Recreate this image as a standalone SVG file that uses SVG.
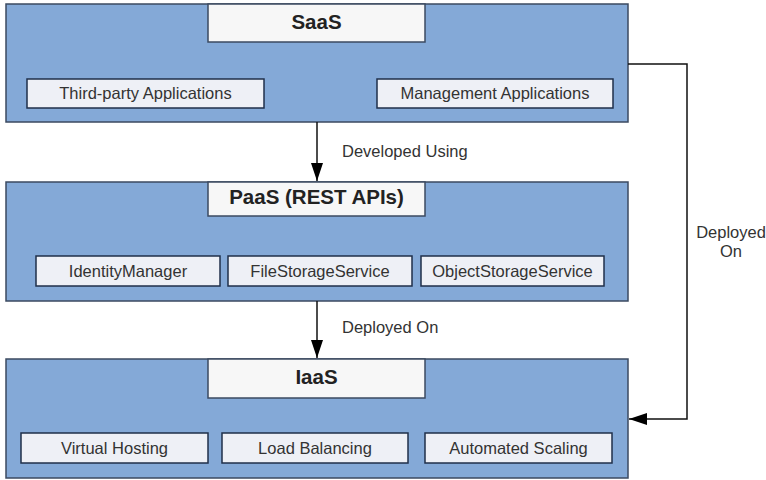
<svg xmlns="http://www.w3.org/2000/svg" width="766" height="480" viewBox="0 0 766 480">
<defs>
<style>
.outer{fill:#84a9d7;stroke:#3b4a60;stroke-width:1.5}
.title{fill:#f7f7f7;stroke:#3b4a60;stroke-width:1.5}
.item{fill:#eef0f6;stroke:#1f2f4a;stroke-width:1.5}
.tt{font-family:"Liberation Sans",Arial,sans-serif;font-size:20.5px;font-weight:bold;fill:#222;text-anchor:middle}
.it{font-family:"Liberation Sans",Arial,sans-serif;font-size:16.5px;fill:#333;text-anchor:middle}
.lb{font-family:"Liberation Sans",Arial,sans-serif;font-size:16.5px;fill:#333}
.conn{fill:none;stroke:#111;stroke-width:1.5}
</style>
<marker id="ah" viewBox="0 0 18 12" refX="18" refY="6" markerWidth="18" markerHeight="12" markerUnits="userSpaceOnUse" orient="auto">
<path d="M0,0 L18,6 L0,12 z" fill="#000"/>
</marker>
</defs>
<rect width="766" height="480" fill="#fff"/>
<g id="saas">
<rect class="outer" x="6" y="4" width="622" height="118"/>
<rect class="title" x="208" y="4" width="217" height="38"/>
<text class="tt" x="316.5" y="29">SaaS</text>
<g id="third-party"><rect class="item" x="27" y="79" width="237" height="29"/><text class="it" x="145.5" y="99">Third-party Applications</text></g>
<g id="management"><rect class="item" x="377" y="79" width="236" height="29"/><text class="it" x="495" y="99">Management Applications</text></g>
</g>
<g id="paas">
<rect class="outer" x="6" y="182" width="622" height="119"/>
<rect class="title" x="208" y="182" width="217" height="34"/>
<text class="tt" x="316.5" y="204">PaaS (REST APIs)</text>
<g id="identity"><rect class="item" x="36" y="256" width="184" height="30"/><text class="it" x="128" y="277">IdentityManager</text></g>
<g id="filestorage"><rect class="item" x="228" y="256" width="184" height="30"/><text class="it" x="320" y="277">FileStorageService</text></g>
<g id="objectstorage"><rect class="item" x="421" y="256" width="183" height="30"/><text class="it" x="512.5" y="277">ObjectStorageService</text></g>
</g>
<g id="iaas">
<rect class="outer" x="6" y="359" width="622" height="119"/>
<rect class="title" x="208" y="359" width="217" height="39"/>
<text class="tt" x="316.5" y="384">IaaS</text>
<g id="virtual"><rect class="item" x="21" y="433" width="187" height="30"/><text class="it" x="114.5" y="454">Virtual Hosting</text></g>
<g id="loadbalancing"><rect class="item" x="222" y="433" width="186" height="30"/><text class="it" x="315" y="454">Load Balancing</text></g>
<g id="scaling"><rect class="item" x="425" y="433" width="187" height="30"/><text class="it" x="518.5" y="454">Automated Scaling</text></g>
</g>
<g id="connectors">
<line class="conn" x1="317" y1="122" x2="317" y2="181" marker-end="url(#ah)"/>
<line class="conn" x1="317" y1="301" x2="317" y2="358" marker-end="url(#ah)"/>
<polyline class="conn" points="628,64 687,64 687,419 629,419" marker-end="url(#ah)"/>
<text class="lb" x="342" y="157">Developed Using</text>
<text class="lb" x="342" y="333">Deployed On</text>
<text class="lb" x="731" y="238" text-anchor="middle">Deployed</text>
<text class="lb" x="731" y="257" text-anchor="middle">On</text>
</g>
</svg>
